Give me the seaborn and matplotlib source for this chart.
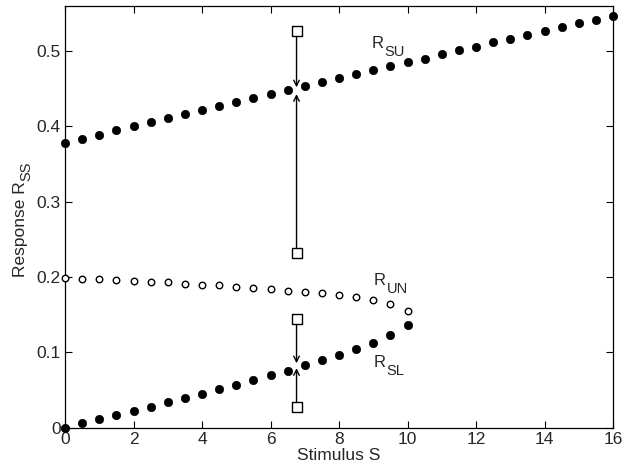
import numpy as np
import pandas as pd
import matplotlib
matplotlib.use("Agg")
import matplotlib.pyplot as plt
import seaborn as sns

# ---- data ----
S_upper = [0, 0.5, 1, 1.5, 2, 2.5, 3, 3.5, 4, 4.5, 5, 5.5, 6, 6.5, 7, 7.5, 8,
           8.5, 9, 9.5, 10, 10.5, 11, 11.5, 12, 12.5, 13, 13.5, 14, 14.5, 15, 15.5, 16]
R_SU = [0.378, 0.384, 0.389, 0.395, 0.400, 0.406, 0.411, 0.417, 0.422, 0.427, 0.433,
        0.438, 0.443, 0.448, 0.454, 0.459, 0.464, 0.470, 0.475, 0.480, 0.485, 0.490,
        0.496, 0.501, 0.506, 0.512, 0.516, 0.522, 0.527, 0.532, 0.537, 0.542, 0.547]

S_lower = [0, 0.5, 1, 1.5, 2, 2.5, 3, 3.5, 4, 4.5, 5, 5.5, 6, 6.5, 7, 7.5, 8,
           8.5, 9, 9.5, 10]
R_UN = [0.199, 0.198, 0.197, 0.196, 0.195, 0.194, 0.193, 0.191, 0.190, 0.189, 0.187,
        0.186, 0.184, 0.182, 0.180, 0.179, 0.176, 0.173, 0.170, 0.164, 0.155]
R_SL = [0.000, 0.0057, 0.0115, 0.0168, 0.0225, 0.0278, 0.0335, 0.0392, 0.0454, 0.0512,
        0.0573, 0.0635, 0.0697, 0.0758, 0.083, 0.0895, 0.0966, 0.1045, 0.1128, 0.1225, 0.1366]

# perturbation experiment at S = 6.76: start values (squares) and arrow tips
S_pert = 6.76
pert_start = [0.527, 0.232, 0.1437, 0.0273]
pert_end = [0.452, 0.443, 0.0856, 0.079]

label_main = ["R", "R", "R"]
label_sub = ["SU", "UN", "SL"]
label_S = [8.95, 9.02, 9.02]
label_R = [0.5045, 0.190, 0.081]

x_ticks = [0, 2, 4, 6, 8, 10, 12, 14, 16]
y_ticks = [0, 0.1, 0.2, 0.3, 0.4, 0.5]
y_tick_labels = ["0", "0.1", "0.2", "0.3", "0.4", "0.5"]
x_label = "Stimulus S"
y_label_main = "Response R"
y_label_sub = "SS"

# ---- style ----
sns.set_style("ticks")
plt.rcParams["font.family"] = ["Liberation Sans", "DejaVu Sans"]

fig = plt.figure(figsize=(6.29, 4.73), dpi=100)
ax = fig.add_axes([65 / 629, 45.3 / 473, (613 - 65) / 629, (427.7 - 6) / 473])

up = pd.DataFrame({"S": S_upper, "R": R_SU})
lo = pd.DataFrame({"S": S_lower, "SL": R_SL, "UN": R_UN})

sns.scatterplot(data=up, x="S", y="R", ax=ax, color="black", s=36,
                edgecolor="black", linewidth=0.5, clip_on=False, zorder=3)
sns.scatterplot(data=lo, x="S", y="SL", ax=ax, color="black", s=36,
                edgecolor="black", linewidth=0.5, clip_on=False, zorder=3)
sns.scatterplot(data=lo, x="S", y="UN", ax=ax, facecolor="white", s=22,
                edgecolor="black", linewidth=1.0, clip_on=False, zorder=3)

# squares and arrows
ax.scatter([S_pert] * len(pert_start), pert_start, marker="s", s=55,
           facecolor="white", edgecolor="black", linewidth=1.0, zorder=4)
for y0, y1 in zip(pert_start, pert_end):
    ax.annotate("", xy=(S_pert, y1), xytext=(S_pert, y0),
                arrowprops=dict(arrowstyle="->", color="black", lw=1.0,
                                shrinkA=4, shrinkB=0,
                                mutation_scale=10), zorder=2)

ax.set_xlim(0, 16)
ax.set_ylim(0, 0.56)
ax.set_xticks(x_ticks)
ax.set_xticklabels([str(v) for v in x_ticks])
ax.set_yticks(y_ticks)
ax.set_yticklabels(y_tick_labels)
ax.tick_params(direction="in", length=5, width=0.8, labelsize=12.5,
               top=True, right=True, pad=3, color="black")
for sp in ax.spines.values():
    sp.set_linewidth(0.9)
    sp.set_color("black")
    sp.set_visible(True)

ax.set_xlabel(x_label, fontsize=12.5, labelpad=1)
ax.set_ylabel("")

fig.canvas.draw()
renderer = fig.canvas.get_renderer()

# curve labels with large subscripts
for m, sub, xs, ys in zip(label_main, label_sub, label_S, label_R):
    t = ax.text(xs, ys, m, fontsize=12, ha="left", va="baseline")
    bb = t.get_window_extent(renderer)
    base_disp = ax.transData.transform((xs, ys))
    fig.text(bb.x1 + 0.5, base_disp[1] - 8, sub, fontsize=10.5,
             ha="left", va="baseline", transform=None)

# y label with large subscript (pixel coordinates, origin bottom-left)
ty = fig.text(25, 473 - 277, y_label_main, fontsize=12.5, rotation=90,
              rotation_mode="anchor", ha="left", va="baseline", transform=None)
bb = ty.get_window_extent(renderer)
fig.text(30, bb.y1 + 0.5, y_label_sub, fontsize=10.5, rotation=90,
         rotation_mode="anchor", ha="left", va="baseline", transform=None)

fig.savefig("out.png", dpi=100)
